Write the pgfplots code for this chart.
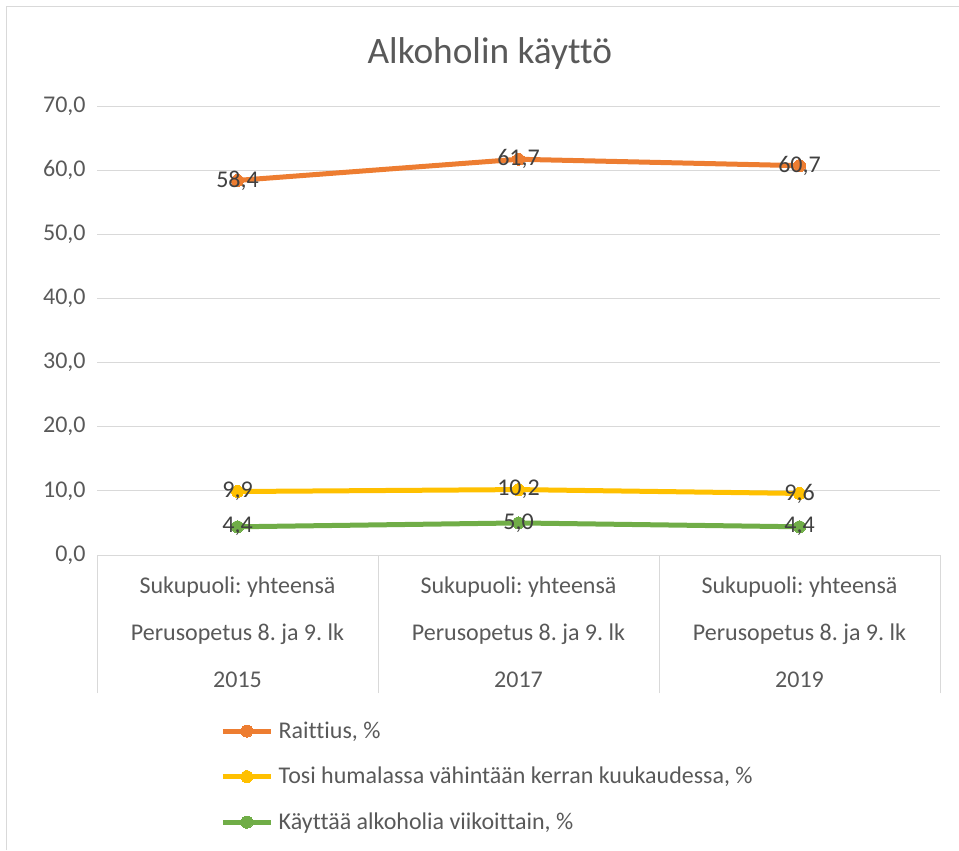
\documentclass[border=0pt]{standalone}
\usepackage{pgfplots}
\pgfplotsset{compat=1.18}
\usepackage{fontspec}
\setmainfont[Ligatures=NoCommon]{Carlito}
\frenchspacing
\definecolor{cOr}{HTML}{ED7D31}
\definecolor{cYe}{HTML}{FFC000}
\definecolor{cGr}{HTML}{70AD47}
\definecolor{gridc}{HTML}{D9D9D9}
\definecolor{tc}{HTML}{595959}
\definecolor{dl}{HTML}{404040}
\begin{document}
\begin{tikzpicture}
\path[use as bounding box] (0pt,0pt) rectangle (719.25pt,-637.5pt);
\draw[gridc, line width=0.75pt] (4.5pt,-637.5pt) -- (4.5pt,-4.5pt) -- (719.25pt,-4.5pt);
\begin{axis}[
  at={(72.75pt,-416.25pt)}, anchor=south west,
  scale only axis, width=632.25pt, height=336.75pt,
  xmin=-0.5, xmax=2.5, ymin=0, ymax=70,
  ytick={0,10,...,70},
  xtick={0,1,2},
  xticklabels={{Sukupuoli: yhteensä\\Perusopetus 8. ja 9. lk\\2015},
               {Sukupuoli: yhteensä\\Perusopetus 8. ja 9. lk\\2017},
               {Sukupuoli: yhteensä\\Perusopetus 8. ja 9. lk\\2019}},
  xticklabel style={align=center, font=\fontsize{18}{35.25}\selectfont, text=tc, yshift=-12.5pt},
  yticklabel style={font=\fontsize{18}{21}\selectfont, text=tc, xshift=-5pt},
  /pgf/number format/.cd, use comma, fixed, fixed zerofill, precision=1, assume math mode=true,
  /pgfplots/.cd,
  axis line style={draw=none},
  ymajorgrids, grid style={draw=gridc, line width=0.75pt},
  major tick length=0pt,
  xtick pos=lower, ytick pos=left,
  extra x ticks={-0.5,0.5,1.5,2.5},
  extra x tick labels={,,,},
  extra x tick style={grid=none, tick align=outside, major tick length=103.5pt,
     tick style={draw=gridc, line width=0.75pt}},
  title={Alkoholin käyttö},
  title style={at={(0.466,1.10)}, anchor=center, font=\fontsize{28}{32}\selectfont, text=tc},
  nodes near coords={\pgfmathprintnumber[use comma,fixed,fixed zerofill,precision=1]{\pgfplotspointmeta}},
  every node near coord/.append style={anchor=center, font=\fontsize{18}{21}\selectfont, text=dl},
  legend style={draw=none, fill=none, at={(0.146,-0.365)}, anchor=north west, inner sep=0pt,
     row sep=16.2pt, font=\fontsize{18}{21}\selectfont, text=tc, cells={anchor=west},
     /tikz/every odd column/.append style={column sep=2pt}},
  legend image code/.code={\draw[mark repeat=2,mark phase=2,#1] plot coordinates {(0pt,0pt) (18pt,0pt) (36pt,0pt)};},
  every axis plot/.append style={line width=3.75pt, mark=*, mark size=4.5pt},
]
\addplot[color=cOr, mark options={fill=cOr, line width=0pt}] coordinates {(0,58.4) (1,61.7) (2,60.7)};
\addlegendentry{Raittius, \%}
\addplot[color=cYe, mark options={fill=cYe, line width=0pt}] coordinates {(0,9.9) (1,10.2) (2,9.6)};
\addlegendentry{Tosi humalassa vähintään kerran kuukaudessa, \%}
\addplot[color=cGr, mark options={fill=cGr, line width=0pt}] coordinates {(0,4.4) (1,5.0) (2,4.4)};
\addlegendentry{Käyttää alkoholia viikoittain, \%}
\end{axis}
\end{tikzpicture}
\end{document}
